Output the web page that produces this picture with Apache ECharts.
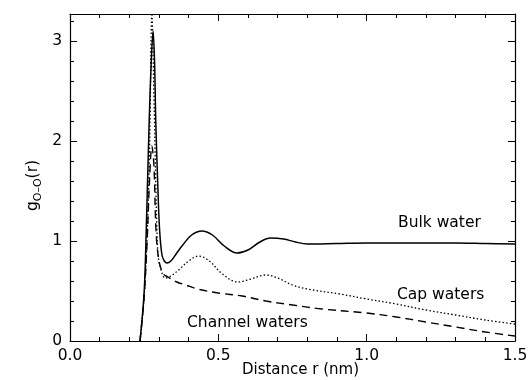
<!DOCTYPE html>
<html>
<head>
<meta charset="utf-8">
<script src="https://cdn.jsdelivr.net/npm/echarts@6/dist/echarts.min.js"></script>
<style>
  html, body { margin: 0; padding: 0; background: #fff; }
  #chart { width: 528px; height: 380px; }
</style>
</head>
<body>
<div id="chart"></div>
<script>
// ---- data ----
const bulkR = [0.236, 0.25, 0.257, 0.267, 0.274, 0.28, 0.285, 0.289, 0.296, 0.302, 0.31, 0.318, 0.327, 0.34, 0.36, 0.38, 0.41, 0.445, 0.48, 0.52, 0.563, 0.60, 0.64, 0.676, 0.72, 0.76, 0.80, 0.90, 1.0, 1.1, 1.2, 1.3, 1.4, 1.5];
const bulkG = [0.0, 0.49, 1.11, 2.21, 2.8, 3.1, 2.8, 2.21, 1.55, 1.11, 0.86, 0.8, 0.78, 0.8, 0.88, 0.96, 1.06, 1.10, 1.06, 0.95, 0.88, 0.91, 0.99, 1.03, 1.02, 0.99, 0.97, 0.975, 0.98, 0.98, 0.98, 0.98, 0.975, 0.97];

const capR = [0.236, 0.25, 0.26, 0.268, 0.276, 0.284, 0.293, 0.298, 0.31, 0.32, 0.34, 0.37, 0.40, 0.434, 0.47, 0.51, 0.565, 0.61, 0.66, 0.70, 0.75, 0.80, 0.91, 1.0, 1.1, 1.2, 1.3, 1.4, 1.5];
const capG = [0.0, 0.45, 1.05, 1.9, 3.26, 2.3, 1.11, 0.83, 0.68, 0.63, 0.65, 0.72, 0.80, 0.85, 0.80, 0.68, 0.59, 0.62, 0.66, 0.63, 0.56, 0.52, 0.47, 0.42, 0.37, 0.31, 0.26, 0.21, 0.17];

const chanR = [0.236, 0.25, 0.26, 0.268, 0.276, 0.283, 0.29, 0.30, 0.315, 0.33, 0.36, 0.39, 0.43, 0.50, 0.58, 0.66, 0.75, 0.85, 1.0, 1.1, 1.2, 1.3, 1.4, 1.5];
const chanG = [0.0, 0.45, 1.0, 1.6, 1.95, 1.75, 1.1, 0.8, 0.67, 0.64, 0.59, 0.56, 0.52, 0.48, 0.45, 0.40, 0.36, 0.32, 0.28, 0.24, 0.19, 0.14, 0.09, 0.05];

const xTickLabels = ['0.0', '0.5', '1.0', '1.5'];
const yTickLabels = ['0', '1', '2', '3'];
const seriesNames = ['Bulk water', 'Cap waters', 'Channel waters'];

// ---- chart ----
const FONT = '"DejaVu Sans", sans-serif';
const pairs = (xs, ys) => xs.map((x, i) => [x, ys[i]]);
const isNear = (v, step) => Math.abs(v / step - Math.round(v / step)) < 1e-6;

const axisCommon = {
  axisLine: { show: true, onZero: false, lineStyle: { color: '#000', width: 1.2 } },
  axisTick: { show: true, inside: true, length: 7, lineStyle: { color: '#000', width: 1 } },
  minorTick: { show: true, splitNumber: 5, length: 4, lineStyle: { color: '#000', width: 1 } },
  splitLine: { show: false }
};

const chart = echarts.init(document.getElementById('chart'), null, { renderer: 'canvas' });
chart.setOption({
  backgroundColor: '#fff',
  animation: false,
  grid: { left: 70, right: 13, top: 14, bottom: 39, containLabel: false, outerBoundsMode: 'none' },
  xAxis: [
    Object.assign({}, axisCommon, {
      type: 'value', position: 'bottom', min: 0, max: 1.5, interval: 0.5,
      name: 'Distance r (nm)', nameLocation: 'middle', nameGap: 22, nameMoveOverlap: false,
      nameTextStyle: { fontFamily: FONT, fontSize: 15, color: '#000', padding: [0, 0, 0, 16] },
      axisLabel: {
        fontFamily: FONT, fontSize: 15.5, color: '#000', margin: 7,
        formatter: (v) => isNear(v, 0.5) ? (xTickLabels[Math.round(v / 0.5)] ?? '') : ''
      }
    }),
    Object.assign({}, axisCommon, {
      type: 'value', position: 'top', min: 0, max: 1.5, interval: 0.5,
      axisLabel: { show: false }
    })
  ],
  yAxis: [
    Object.assign({}, axisCommon, {
      type: 'value', position: 'left', min: 0, max: 3.27, interval: 1,
      name: '{g|g}{s|O–O}{g|(r)}', nameLocation: 'middle', nameGap: 26, nameMoveOverlap: false,
      nameTextStyle: {
        fontFamily: FONT, color: '#000', padding: [0, 16, 0, 0],
        rich: {
          g: { fontFamily: FONT, fontSize: 15.5, color: '#000', lineHeight: 22, verticalAlign: 'middle' },
          s: { fontFamily: FONT, fontSize: 11, color: '#000', lineHeight: 22, verticalAlign: 'bottom', padding: [6, 0, 0, 0] }
        }
      },
      axisLabel: {
        fontFamily: FONT, fontSize: 15.5, color: '#000', margin: 8, showMaxLabel: false,
        formatter: (v) => isNear(v, 1) ? (yTickLabels[Math.round(v)] ?? '') : ''
      }
    }),
    Object.assign({}, axisCommon, {
      type: 'value', position: 'right', min: 0, max: 3.27, interval: 1,
      axisLabel: { show: false }
    })
  ],
  series: [
    {
      name: seriesNames[0], type: 'line', data: pairs(bulkR, bulkG),
      showSymbol: false, smooth: 0.35, clip: true,
      lineStyle: { color: '#000', width: 1.5, type: 'solid' }
    },
    {
      name: seriesNames[1], type: 'line', data: pairs(capR, capG),
      showSymbol: false, smooth: 0.35, clip: true,
      lineStyle: { color: '#000', width: 1.3, type: [1.5, 2.2] }
    },
    {
      name: seriesNames[2], type: 'line', data: pairs(chanR, chanG),
      showSymbol: false, smooth: 0.35, clip: true,
      lineStyle: { color: '#000', width: 1.4, type: [8, 5] }
    }
  ],
  graphic: [
    { type: 'text', x: 398, y: 223, style: { text: seriesNames[0], font: '15.5px ' + FONT, fill: '#000', verticalAlign: 'middle' } },
    { type: 'text', x: 397, y: 295, style: { text: seriesNames[1], font: '15.5px ' + FONT, fill: '#000', verticalAlign: 'middle' } },
    { type: 'text', x: 187, y: 323, style: { text: seriesNames[2], font: '15.5px ' + FONT, fill: '#000', verticalAlign: 'middle' } }
  ]
});
</script>
</body>
</html>
